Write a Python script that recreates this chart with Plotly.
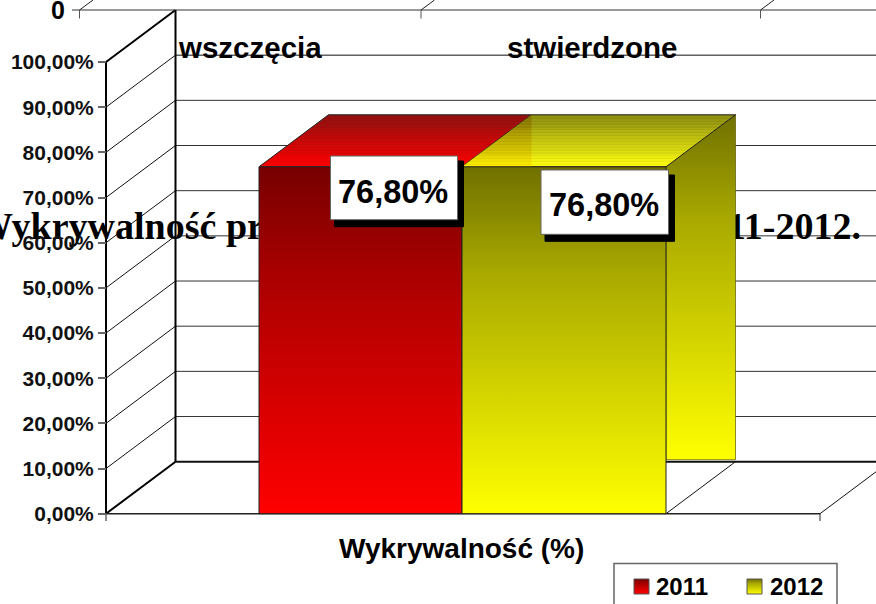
import plotly.graph_objects as go

# ---- data ----
categories = ["Wykrywalność (%)"]
series_names = ["2011", "2012"]
values_2011 = [76.80]
values_2012 = [76.80]
value_labels = ["76,80%", "76,80%"]
tick_values = [0, 10, 20, 30, 40, 50, 60, 70, 80, 90, 100]
tick_labels = ["0,00%", "10,00%", "20,00%", "30,00%", "40,00%", "50,00%",
               "60,00%", "70,00%", "80,00%", "90,00%", "100,00%"]
upper_chart_categories = ["wszczęcia", "stwierdzone"]
upper_chart_tick = "0"
title_left = "Wykrywalność przestępstw"
title_right = "w latach 2011-2012."

W, H = 876, 604
Y0_PX, PX_PER_UNIT = 513.7, 4.517
DX = 69.5
DEPTH = 52 / PX_PER_UNIT
FONT = "Liberation Sans"
def val(px):
    return (Y0_PX - px) / PX_PER_UNIT

# colorscale position 0 = bottom of the face, 1 = top
red = [[0, "#ff0000"], [0.7, "#a80000"], [1, "#760000"]]
yellow = [[0, "#ffff00"], [0.7, "#a8a800"], [1, "#707000"]]

def stripes(bright, dark, n=18):
    def mix(t):
        a = [int(bright[i:i+2], 16) for i in (1, 3, 5)]
        b = [int(dark[i:i+2], 16) for i in (1, 3, 5)]
        return "rgb(%d,%d,%d)" % tuple(a[k] + (b[k] - a[k]) * t for k in range(3))
    out = []
    for i in range(n):
        t0, t1 = i / n, (i + 1) / n
        mid = t0 + (t1 - t0) * 0.6
        out += [[t0, mix(t0)], [mid, mix(t0)], [mid, mix(min(t0 + 0.12, 1))], [t1, mix(min(t0 + 0.12, 1))]]
    return out

def face(xs, ys, scale, line="#222222"):
    return go.Scatter(x=xs, y=ys, mode="lines", fill="toself", hoverinfo="skip", showlegend=False,
                      line=dict(color=line, width=1),
                      fillgradient=dict(type="vertical", colorscale=scale))

fig = go.Figure()

# title sits behind the bars
serif = dict(family="Liberation Serif", size=38, color="black", weight="bold")
fig.add_trace(go.Scatter(x=[-25], y=[val(229.5)], mode="text", text=[title_left], showlegend=False, hoverinfo="skip",
                         textposition="middle right", textfont=serif))
fig.add_trace(go.Scatter(x=[861], y=[val(229.5)], mode="text", text=[title_right], showlegend=False, hoverinfo="skip",
                         textposition="middle left", textfont=serif))

x_red = (259, 462)
x_yel = (462, 666)
v1, v2 = values_2011[0], values_2012[0]
SIDE_BOTTOM = DEPTH + 0.45

# red bar
fig.add_trace(face([x_red[0], x_red[0] + DX, x_red[1] + DX, x_red[1], x_red[0]],
                   [v1, v1 + DEPTH, v1 + DEPTH, v1, v1], stripes("#ff0000", "#901010")))
fig.add_trace(face([x_red[0], x_red[1], x_red[1], x_red[0], x_red[0]], [0, 0, v1, v1, 0], red))
# yellow bar
fig.add_trace(face([x_yel[1], x_yel[1] + DX, x_yel[1] + DX, x_yel[1], x_yel[1]],
                   [v2, v2 + DEPTH, SIDE_BOTTOM, SIDE_BOTTOM, v2], yellow, line="rgba(90,90,0,0.7)"))
fig.add_trace(face([x_yel[0], x_yel[0] + DX, x_yel[1] + DX, x_yel[1], x_yel[0]],
                   [v2, v2 + DEPTH, v2 + DEPTH, v2, v2], stripes("#ffff10", "#8c8c10")))
fig.add_trace(face([x_yel[0], x_yel[0] + DX, x_yel[0] + DX, x_yel[0]],
                   [v2, v2 + DEPTH, v2, v2], stripes("#ffee00", "#807000"), line="rgba(0,0,0,0)"))
fig.add_trace(face([x_yel[0], x_yel[1], x_yel[1], x_yel[0], x_yel[0]], [0, 0, v2, v2, 0], yellow))

# legend swatches
for sx, scale in ((634, red), (747, yellow)):
    fig.add_trace(face([sx, sx + 15, sx + 15, sx, sx],
                       [val(594), val(594), val(579), val(579), val(594)], scale, line="#555555"))

shapes = []
def seg(x0, y0, x1, y1, color="#111111", width=1, layer="below"):
    shapes.append(dict(type="line", xref="x", yref="y", x0=x0, y0=y0, x1=x1, y1=y1, layer=layer,
                       line=dict(color=color, width=width)))

XL, XB, XR = 106, 106 + DX, 820
for t in tick_values:
    if t not in (0, 100):
        seg(XL, t, XB, t + DEPTH)
    seg(XB, t + DEPTH, W, t + DEPTH, width=2 if t == 0 else 1, color="#111111" if t in (0, 90) else "#333333")
seg(XL, 0, XB, DEPTH, width=2, color="black")
seg(XL, 100, XB, 100 + DEPTH, width=2, color="black")
seg(XL, 0, XL, 100, width=2, color="black")
seg(XB, DEPTH, XB, 100 + DEPTH, width=2, color="black")
seg(XL, 0, XR, 0, width=1.5, color="#222222")
seg(XL, 0, XL, val(521), width=1.5, color="#666666")
seg(XR, 0, XR, val(521), width=1, color="#222222")
seg(XR, 0, XR + DX, DEPTH)
seg(x_yel[1], 0, x_yel[1] + DX, DEPTH)

# piece of the upper chart
seg(72, val(10), XB, val(10), width=1, color="#333333")
for x in (79.5, 421, 760.5):
    seg(x, val(10), x, val(18.5), color="#555555")
    seg(x, val(10), x + 13.5, val(0), color="#222222")

# data-label boxes with shadows
def rect(x0, y0, x1, y1, fill, line=None):
    shapes.append(dict(type="rect", xref="x", yref="y", x0=x0, x1=x1, y0=val(y0), y1=val(y1), layer="above",
                       fillcolor=fill, line=dict(color=line or fill, width=1)))

label_boxes = [(330.5, 156, 457.5, 219.7), (541, 170, 668.5, 234.3)]
for (x0, y0, x1, y1) in label_boxes:
    rect(x0 + 4, y0 + 5, x1 + 6, y1 + 7, "black")
    rect(x0, y0, x1, y1, "white", "#666666")

# legend frame (drawn under the swatches)
shapes.append(dict(type="rect", xref="x", yref="y", x0=614, x1=837, y0=val(563.5), y1=val(610), layer="below",
                   fillcolor="white", line=dict(color="#666666", width=1.5)))

def note(x, py, text, size, anchor="center"):
    return dict(x=x, y=val(py), xref="x", yref="y", text=text, showarrow=False, xanchor=anchor, yanchor="middle",
                font=dict(family=FONT, size=size, color="black", weight="bold"))

annotations = [
    note(250, 47, upper_chart_categories[0], 29.5),
    note(592, 47, upper_chart_categories[1], 29.5),
    note(67, 10, upper_chart_tick, 25, "right"),
    note(461.5, 548.5, categories[0], 28),
    note(392.5, 191.5, value_labels[0], 32.5),
    note(603.5, 205, value_labels[1], 32.5),
    note(682, 586, series_names[0], 24),
    note(796.5, 586, series_names[1], 24),
]

fig.update_layout(
    width=W, height=H, margin=dict(l=0, r=0, t=0, b=0), autosize=False,
    paper_bgcolor="white", plot_bgcolor="white", showlegend=False,
    shapes=shapes, annotations=annotations,
    xaxis=dict(range=[0, W], visible=False, domain=[0, 1]),
    yaxis=dict(range=[val(H), val(0)], anchor="free", position=XL / W,
               tickmode="array", tickvals=tick_values, ticktext=tick_labels, showgrid=False, zeroline=False,
               showline=False, ticks="outside", ticklen=8, tickwidth=1.5, tickcolor="#666666",
               tickfont=dict(family=FONT, size=21, color="#111111", weight="bold")),
)
fig.write_html("out.html", config=dict(displayModeBar=False),
               post_script="document.body.style.margin='0';document.documentElement.style.overflow='hidden';")
